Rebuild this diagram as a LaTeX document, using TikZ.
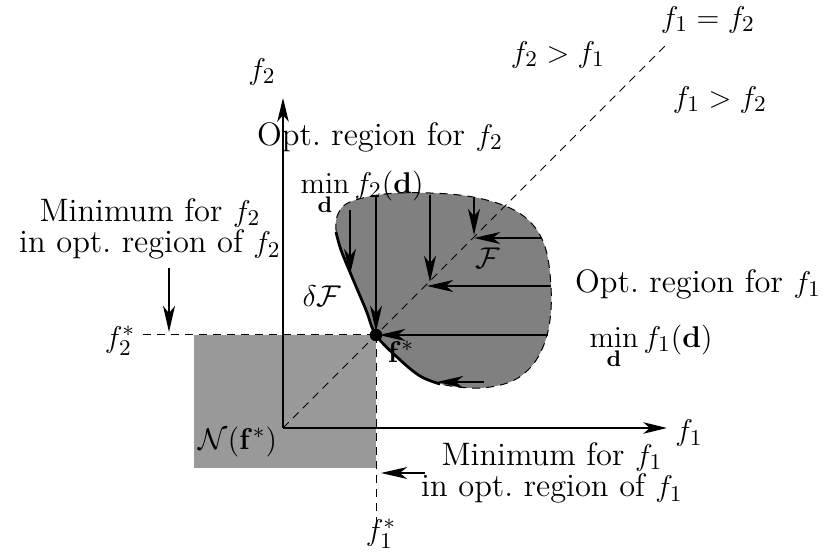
\documentclass[tikz,border=0pt]{standalone}
\usetikzlibrary{arrows.meta}

\begin{document}
\begin{tikzpicture}[
  x=0.4pt, y=-0.4pt,
  lbl/.style    = {font=\fontsize{13}{12.5}\selectfont, inner sep=1pt},
  txt/.style    = {lbl, align=center},
  axis/.style   = {-{Stealth[length=9.5pt,width=4.6pt,inset=2.6pt]}, line width=0.45pt},
  arr/.style    = {-{Stealth[length=10.5pt,width=4.8pt,inset=3pt]}, line width=0.55pt},
  bigarr/.style = {arr, line width=1pt},
  dashln/.style = {dash pattern=on 3.2pt off 2.4pt, line width=0.4pt},
  front/.style  = {line width=1.1pt},
  dot/.style    = {circle, fill=black, inner sep=0pt, minimum size=5pt},
]
\useasboundingbox (0,0) rectangle (826,552);

%% key points
\coordinate (O)       at (283,428);
\coordinate (f1end)   at (667,428);
\coordinate (f2end)   at (283,98);
\coordinate (diagend) at (666,45);
\coordinate (f2left)  at (143,335);
\coordinate (f1low)   at (376,522);

%% dominated region N(f*)
\fill[black!40] (194,335) rectangle (376,468);

%% feasible set F
\fill[black!50] plot[smooth cycle, tension=0.6] coordinates {
  (376,335) (366,310) (352,277) (341,250) (336,230) (338,214) (350,202)
  (385,194) (430,193) (473,197) (510,208) (533,225) (546,250) (551,287)
  (550,320) (543,347) (530,368) (510,382) (480,388) (445,385) (420,376)
  (398,358)};
\draw[dashln] plot[smooth cycle, tension=0.6] coordinates {
  (376,335) (366,310) (352,277) (341,250) (336,230) (338,214) (350,202)
  (385,194) (430,193) (473,197) (510,208) (533,225) (546,250) (551,287)
  (550,320) (543,347) (530,368) (510,382) (480,388) (445,385) (420,376)
  (398,358)};
\draw[front] plot[smooth, tension=0.6] coordinates {
  (336,232) (341,250) (352,277) (366,310) (376,335) (398,358) (420,376)
  (440,384)};

%% f1 = f2 line and the f* cross lines
\draw[dashln] (O) -- (diagend);
\draw[dashln] (f2left) -- (376,335);
\draw[dashln] (376,335) -- (f1low);

%% axes
\draw[axis] (O) -- (f1end);
\draw[axis] (O) -- (f2end);

%% descent arrows for f2 (down) and f1 (left)
\foreach \xx/\ya/\yb in {350/210/275, 430/195/282, 474/198/235}
  \draw[arr] (\xx,\ya) -- (\xx,\yb);
\foreach \yy/\xa/\xb in {238/541/474, 286/551/427, 382/484/437}
  \draw[arr] (\xa,\yy) -- (\xb,\yy);
\draw[bigarr] (376,196) -- (376,332);
\draw[bigarr] (548,335) -- (379,335);

\node[dot] (fstar) at (376,335) {};

%% labels
\node[lbl] (lf2)    at (262,72)  {$f_2$};
\node[lbl] (lf1)    at (689,433) {$f_1$};
\node[lbl] (eq)     at (708,20)  {$f_1 = f_2$};
\node[lbl] (f2gt)   at (558,55)  {$f_2 > f_1$};
\node[lbl] (f1gt)   at (720,100) {$f_1 > f_2$};
\node[lbl] (opt2)   at (380,137) {Opt.\ region for $f_2$};
\node[lbl] (min2)   at (362,193) {$\displaystyle\min_{\mathbf{d}} f_2(\mathbf{d})$};
\node[lbl] (opt1)   at (698,284) {Opt.\ region for $f_1$};
\node[lbl] (min1)   at (651,347) {$\displaystyle\min_{\mathbf{d}} f_1(\mathbf{d})$};
\node[lbl] (dF)     at (322,296) {$\delta\mathcal{F}$};
\node[lbl] (F)      at (488,258) {$\mathcal{F}$};
\node[lbl] (lfstar) at (401,352) {$\mathbf{f}^*$};
\node[lbl] (N)      at (238,442) {$\mathcal{N}(\mathbf{f}^*)$};
\node[lbl] (f2s)    at (120,341) {$f_2^*$};
\node[lbl] (f1s)    at (381,534) {$f_1^*$};
\node[txt] (minf2)  at (150,229) {Minimum for $f_2$\\in opt.\ region of $f_2$};
\node[txt] (minf1)  at (552,473) {Minimum for $f_1$\\in opt.\ region of $f_1$};

%% pointers to the minima
\coordinate (p2a) at (169,268);
\coordinate (p2b) at (169,332);
\coordinate (p1a) at (425,473);
\coordinate (p1b) at (381,473);
\draw[arr] (p2a) -- (p2b);
\draw[arr] (p1a) -- (p1b);

\end{tikzpicture}
\end{document}
